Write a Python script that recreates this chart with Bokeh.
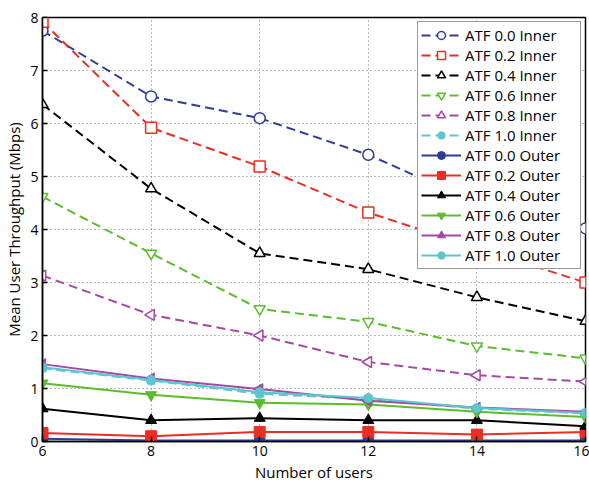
from bokeh.plotting import figure
from bokeh.models import Legend, LegendItem, FixedTicker, Range1d
from bokeh.embed import file_html
from bokeh.resources import INLINE
import math

users = [6, 8, 10, 12, 14, 16]
x_ticks = [6, 8, 10, 12, 14, 16]
y_ticks = [0, 1, 2, 3, 4, 5, 6, 7, 8]

atf00_inner = [7.75, 6.51, 6.10, 5.41, 4.50, 4.02]
atf02_inner = [7.92, 5.92, 5.19, 4.32, 3.65, 3.00]
atf04_inner = [6.36, 4.77, 3.55, 3.25, 2.72, 2.27]
atf06_inner = [4.62, 3.55, 2.50, 2.26, 1.80, 1.57]
atf08_inner = [3.13, 2.39, 2.00, 1.50, 1.25, 1.13]
atf10_inner = [1.38, 1.15, 0.90, 0.80, 0.62, 0.53]
atf00_outer = [0.05, 0.02, 0.02, 0.02, 0.02, 0.02]
atf02_outer = [0.16, 0.10, 0.18, 0.18, 0.13, 0.18]
atf04_outer = [0.62, 0.40, 0.44, 0.40, 0.40, 0.29]
atf06_outer = [1.10, 0.88, 0.73, 0.70, 0.56, 0.46]
atf08_outer = [1.46, 1.19, 0.99, 0.77, 0.64, 0.56]
atf10_outer = [1.40, 1.16, 0.93, 0.82, 0.63, 0.54]

labels = ["ATF 0.0 Inner", "ATF 0.2 Inner", "ATF 0.4 Inner", "ATF 0.6 Inner",
          "ATF 0.8 Inner", "ATF 1.0 Inner", "ATF 0.0 Outer", "ATF 0.2 Outer",
          "ATF 0.4 Outer", "ATF 0.6 Outer", "ATF 0.8 Outer", "ATF 1.0 Outer"]
series = [atf00_inner, atf02_inner, atf04_inner, atf06_inner, atf08_inner, atf10_inner,
          atf00_outer, atf02_outer, atf04_outer, atf06_outer, atf08_outer, atf10_outer]

colors = ["#2e3d98", "#ec2d24", "#000000", "#5bbd2b", "#a349a4", "#5cc6d0"]
markers = ["circle", "square", "triangle", "inverted_triangle", "triangle", "asterisk"]
angles = [0, 0, 0, 0, math.pi / 2, 0]

FONT = "Open Sans"

p = figure(width=589, height=484, output_backend="svg", toolbar_location=None,
           x_range=Range1d(6, 16), y_range=Range1d(0, 8),
           min_border_left=42, min_border_right=4, min_border_top=17, min_border_bottom=40)

p.outline_line_color = "black"
p.outline_line_width = 1.5
p.background_fill_color = "white"
p.border_fill_color = "white"

for ax in (p.xaxis[0], p.yaxis[0]):
    ax.axis_line_color = "black"
    ax.axis_line_width = 1.5
    ax.major_tick_in = 5
    ax.major_tick_out = 0
    ax.minor_tick_line_color = None
    ax.major_tick_line_width = 1.5
    ax.major_label_text_font = FONT
    ax.major_label_text_font_size = "14px"
    ax.major_label_text_color = "black"
    ax.major_label_text_line_height = 1.0
    ax.axis_label_text_font = FONT
    ax.axis_label_text_font_size = "15px"
    ax.axis_label_text_font_style = "normal"
    ax.axis_label_text_color = "black"
    ax.axis_label_text_line_height = 1.0

p.xaxis.ticker = FixedTicker(ticks=x_ticks)
p.yaxis.ticker = FixedTicker(ticks=y_ticks)
p.xaxis.axis_label = "Number of users"
p.yaxis.axis_label = "Mean User Throughput (Mbps)"
p.xaxis.major_label_standoff = 4
p.yaxis.major_label_standoff = 4
p.xaxis.axis_label_standoff = 3
p.yaxis.axis_label_standoff = 3

for g in (p.xgrid[0], p.ygrid[0]):
    g.grid_line_color = "#777777"
    g.grid_line_dash = "1 3"
    g.grid_line_width = 1

items = []
for i, (lab, ys) in enumerate(zip(labels, series)):
    k = i % 6
    inner = i < 6
    c = colors[k]
    ln = p.line(users, ys, line_color=c, line_width=2,
                line_dash="9 5" if inner else "solid")
    size = 11 if markers[k] != "asterisk" else 10
    sc = p.scatter(users, ys, marker=markers[k], size=size, angle=angles[k],
                   line_color=c, line_width=1.5 if inner else 1,
                   fill_color="white" if inner else c,
                   fill_alpha=1.0)
    if markers[k] == "asterisk":
        sc.glyph.line_width = 3
    items.append(LegendItem(label=lab, renderers=[ln, sc]))

legend = Legend(items=items, location="top_right")
legend.margin = 4
legend.padding = 3
legend.spacing = 0
legend.label_height = 20
legend.glyph_height = 20
legend.glyph_width = 40
legend.label_width = 112
legend.label_standoff = 4
legend.label_text_font = FONT
legend.label_text_font_size = "15px"
legend.label_text_line_height = 1.0
legend.label_text_color = "black"
legend.border_line_color = "#333333"
legend.border_line_width = 1
legend.background_fill_color = "white"
legend.background_fill_alpha = 1.0
p.add_layout(legend)

open("out.html", "w").write(file_html(p, INLINE))
